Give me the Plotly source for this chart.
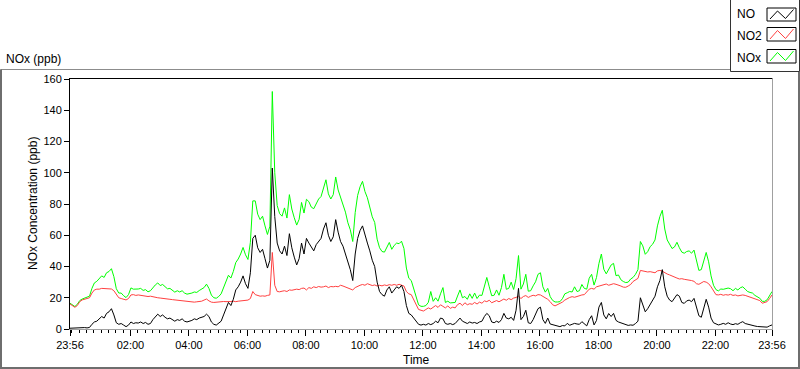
import pandas as pd
import plotly.graph_objects as go

# 5-minute readings from 23:56 to 23:56 next day (289 samples)
START = "2020-01-01 23:56"
STEP = "5min"

NO = [0.5,
      0.6, 0.5, 0.8, 0.7, 0.6, 0.9, 0.7, 1.0, 3.0, 4.5, 5.0, 6.5,
      8, 7, 10, 11, 13, 9, 4, 3, 3.5, 2.5, 1.5, 2.5,
      4.5, 3.5, 4, 3.8, 4.5, 3.5, 4.2, 3.0, 3.5, 6, 8, 9.5,
      8, 9, 7.5, 6.5, 7, 6, 5, 6, 5.5, 6.5, 5, 4.5,
      5, 5.5, 6.5, 6, 7, 7.5, 8, 9.5, 8, 4.5, 3, 2.5,
      3.5, 5, 9, 13, 17, 15, 19, 25, 27, 30, 34, 29,
      26, 36, 58, 60, 52, 49, 51, 45, 39, 44, 103, 72,
      55, 50, 48, 53, 47, 61, 52, 46, 41, 45, 55, 48,
      58, 55, 52, 50, 54, 56, 58, 64, 68, 60, 56, 59,
      70, 62, 56, 53, 48, 42, 38, 31, 48, 58, 63, 66,
      60, 55, 50, 44, 40, 30, 24, 22, 21, 25, 27, 23,
      25, 27, 26, 28, 24, 15, 10, 9, 7, 5, 3, 2.5,
      3, 2.5, 3.5, 2.8, 3.5, 5, 4, 7, 6.5, 3.5, 3, 3.5,
      2.8, 3.5, 5.5, 7, 5, 4, 3.5, 4.5, 3.8, 4.2, 3.5, 4.5,
      5, 8, 10, 8.5, 4.5, 4, 5, 4.2, 6, 10, 7, 6.5,
      7.5, 5.5, 12, 26, 6, 8, 12, 4, 3.5, 6, 9, 13,
      14, 6, 3.6, 7, 3.2, 2.8, 2.5, 1.8, 1.5, 2.2, 2.0, 3.6,
      2.4, 3.0, 3.6, 3.2, 3.0, 4.7, 3.5, 2.0, 6, 8.5, 2.6, 5.5,
      14, 17, 9, 6.5, 9.9, 8, 10, 5.5, 4.5, 4, 3.6, 3,
      2.3, 2.6, 2.4, 3.5, 5, 20, 16, 11, 13, 16, 18, 21,
      27, 31, 38, 27, 21, 18.5, 17.5, 19.6, 22, 21, 17, 16.4,
      18, 18.5, 17.5, 19.6, 14, 8.5, 7.5, 13, 19, 14, 7, 4,
      3.2, 2.6, 3.0, 3.6, 3.0, 4.0, 3.2, 2.8, 3.4, 3.0, 4.0, 4.7,
      3.5, 3.0, 2.8, 2.2, 1.9, 1.6, 1.5, 1.2, 0.9, 1.2, 2.0, 2.6]

NO2 = [16,
       15, 13.9, 15, 17.5, 18.6, 19, 19.6, 20, 23, 25, 25.5, 25.5,
       26, 26, 26, 25.8, 25.6, 24.5, 21.8, 20, 19.5, 18.8, 18.6, 19.5,
       21.8, 22, 21.5, 21.8, 21.5, 21.2, 21, 20.8, 21, 20.5, 20.2, 20,
       19.8, 19.5, 19.5, 19.2, 19, 18.8, 18.6, 18.5, 18.2, 18, 18, 17.8,
       17.5, 17.5, 17.2, 17.4, 17.6, 17.8, 18.5, 19.2, 18, 17.2, 17, 17.2,
       17.3, 17.5, 17.6, 17.5, 17.4, 17.6, 17.8, 17.5, 17.8, 18, 18.2, 18.5,
       18.5, 19.5, 24, 22, 21.5, 21, 21.2, 21, 21.5, 21.8, 49, 28,
       24, 23.8, 24.2, 24.5, 24, 25, 24.8, 25.2, 25.5, 25.2, 26, 26.2,
       25, 26.5, 26, 27, 26.5, 27.2, 26.8, 27, 27.5, 26.5, 27.2, 27,
       27.3, 27, 28, 27.5, 26.8, 26, 25.5, 25, 26.5, 27.5, 28, 28.5,
       28, 29, 28.5, 27.8, 28.2, 27.5, 28, 27.6, 28.2, 27.8, 28.4, 28,
       28.5, 28, 28.6, 28.2, 27.5, 24, 22.5, 22, 19, 15, 12.5, 12,
       11.5, 12.5, 13.5, 12.8, 14.2, 15, 13.8, 15.5, 14.5, 13.5, 14.8, 13.2,
       14, 13.5, 15.6, 16.5, 15, 16.8, 15.5, 16.2, 15.8, 17, 16, 17.2,
       16.5, 18, 17.5, 18.4, 16.8, 17.6, 18.2, 17.4, 18.5, 19.2, 18.4, 19.5,
       18.8, 19.8, 20.2, 21, 19.5, 20.8, 21.4, 20.2, 21, 21.6, 21.2, 22,
       21.8, 21, 20, 19, 17.5, 15.5, 14.8, 15.5, 16, 17.2, 18.5, 19.6,
       20.2, 20.7, 20.3, 20.8, 21.5, 21.8, 22, 23.5, 25.5, 26, 25.5, 27,
       27.5, 27.8, 28.2, 28.8, 28, 28.4, 29, 28.6, 28.2, 27.5, 26.8, 26.7,
       27.5, 28.5, 30.4, 31.5, 32.4, 37.5, 37.2, 36.8, 36.5, 36.7, 36.2, 36,
       37.2, 37.5, 37, 36, 35.2, 34.6, 33.8, 33.4, 32.6, 32, 32.2, 31.8,
       31.6, 31.4, 31, 30.5, 29, 28.6, 29.5, 30.4, 30, 29, 27, 24,
       22, 21.8, 22.2, 21.6, 22, 21.7, 22.2, 21.5, 21.8, 21.2, 21.6, 21.8,
       21.5, 21, 20.6, 20.2, 19.6, 19, 18.2, 16.5, 16.8, 17.5, 19.5, 21.8]

NOX = [16.5,
       15.6, 14.4, 15.8, 18.2, 19.2, 19.9, 20.3, 21.0, 26.0, 29.5, 30.5, 32.0,
       34.0, 33.0, 36.0, 36.8, 38.6, 33.5, 25.8, 23.0, 23.0, 21.3, 20.1, 22.0,
       26.3, 25.5, 25.5, 25.6, 26.0, 24.7, 25.2, 23.8, 24.5, 26.5, 28.2, 29.5,
       27.8, 28.5, 27.0, 25.7, 26.0, 24.8, 23.6, 24.5, 23.7, 24.5, 23.0, 22.3,
       22.5, 23.0, 23.7, 23.4, 24.6, 25.3, 26.5, 28.7, 26.0, 21.7, 20.0, 19.7,
       20.8, 22.5, 26.6, 30.5, 34.4, 32.6, 36.8, 42.5, 44.8, 48.0, 52.2, 47.5,
       44.5, 55.5, 82.0, 82.0, 73.5, 70.0, 72.2, 66.0, 60.5, 65.8, 152.0, 100.0,
       79.0, 73.8, 72.2, 77.5, 71.0, 86.0, 76.8, 71.2, 66.5, 70.2, 81.0, 74.2,
       83.0, 81.5, 78.0, 77.0, 80.5, 83.2, 84.8, 91.0, 95.5, 86.5, 83.2, 86.0,
       97.3, 89.0, 84.0, 80.5, 74.8, 68.0, 63.5, 56.0, 74.5, 85.5, 91.0, 94.5,
       88.0, 84.0, 78.5, 71.8, 68.2, 57.5, 52.0, 49.6, 49.2, 52.8, 55.4, 51.0,
       53.5, 55.0, 54.6, 56.2, 51.5, 39.0, 32.5, 31.0, 26.0, 20.0, 15.5, 14.5,
       14.5, 15.0, 17.0, 24.0, 17.7, 20.0, 17.8, 22.5, 26.5, 17.0, 17.8, 16.7,
       16.8, 17.0, 21.1, 25.0, 20.0, 20.8, 19.0, 22.5, 19.6, 23.0, 19.5, 21.7,
       21.5, 28.0, 33.0, 27.0, 21.3, 21.6, 25.0, 21.6, 26.5, 35.0, 25.4, 26.0,
       30.0, 25.3, 32.2, 47.0, 25.5, 28.8, 35.0, 24.2, 24.5, 27.6, 30.2, 35.0,
       36.0, 27.0, 23.6, 26.0, 20.7, 18.3, 17.3, 17.3, 17.5, 19.4, 22.5, 23.2,
       24.0, 23.7, 27.0, 24.0, 24.5, 28.5, 26.0, 25.5, 32.5, 35.0, 28.1, 33.0,
       42.0, 48.0, 38.2, 35.3, 38.0, 41.0, 42.0, 34.1, 34.6, 31.5, 30.4, 29.7,
       30.0, 32.0, 33.0, 35.0, 38.0, 56.0, 53.2, 47.8, 49.5, 52.7, 54.2, 57.0,
       66.0, 72.0, 76.0, 64.0, 57.0, 54.0, 51.5, 52.5, 55.5, 52.0, 49.2, 48.5,
       49.6, 50.0, 48.5, 50.5, 43.0, 37.5, 38.0, 44.0, 49.0, 43.0, 34.0, 28.0,
       25.2, 24.4, 25.6, 25.4, 26.0, 26.2, 25.8, 24.5, 26.0, 25.0, 26.4, 27.0,
       25.5, 24.0, 23.4, 23.0, 21.5, 20.6, 19.7, 17.7, 17.7, 18.7, 21.5, 24.0]

TICK_VALS = ["2020-01-01 23:56", "2020-01-02 02:00", "2020-01-02 04:00",
             "2020-01-02 06:00", "2020-01-02 08:00", "2020-01-02 10:00",
             "2020-01-02 12:00", "2020-01-02 14:00", "2020-01-02 16:00",
             "2020-01-02 18:00", "2020-01-02 20:00", "2020-01-02 22:00",
             "2020-01-02 23:56"]
TICK_TEXT = ["23:56", "02:00", "04:00", "06:00", "08:00", "10:00", "12:00",
             "14:00", "16:00", "18:00", "20:00", "22:00", "23:56"]

SERIES = ["NO", "NO2", "NOx"]
COLORS = {"NO": "#000000", "NO2": "#ff4040", "NOx": "#00ff00"}

assert len(NO) == len(NO2) == len(NOX) == 289
times = pd.date_range(START, periods=len(NO), freq=STEP)

FONT = "Liberation Sans, Arial, sans-serif"

# plot area in pixels
L, R, T, B = 70, 772, 79, 329
W, H = 800, 369


def px(x):
    return (x - L) / (R - L)


def py(y):
    return (B - y) / (B - T)


fig = go.Figure()
for name, vals in (("NOx", NOX), ("NO2", NO2), ("NO", NO)):
    fig.add_trace(go.Scatter(x=times, y=vals, mode="lines", name=name,
                             line=dict(color=COLORS[name], width=1),
                             showlegend=False, hoverinfo="skip"))

fig.update_layout(
    width=W, height=H,
    margin=dict(l=L, r=W - R, t=T, b=H - B),
    paper_bgcolor="white", plot_bgcolor="white",
    font=dict(family=FONT, size=11, color="#000"),
    xaxis=dict(range=[TICK_VALS[0], TICK_VALS[-1]], tickmode="array",
               tickvals=TICK_VALS, ticktext=TICK_TEXT, ticks="outside",
               ticklen=6, tickcolor="#000", showgrid=False, zeroline=False,
               showline=True, linecolor="#a0a0a0", linewidth=1,
               tickfont=dict(size=11, color="#000"),
               minor=dict(ticks="outside", ticklen=3, tickcolor="#000",
                          dtick=15 * 60 * 1000, tick0="2020-01-02 00:00")),
    yaxis=dict(range=[0, 160], dtick=20, ticks="outside", ticklen=5,
               tickcolor="#000", showgrid=False, zeroline=False,
               showline=True, linecolor="#000", linewidth=1,
               tickfont=dict(size=11, color="#000")),
)

shapes = []
# plot area top and right borders
shapes.append(dict(type="line", xref="paper", yref="paper", x0=px(69), x1=px(772.5),
                   y0=py(78.5), y1=py(78.5), line=dict(color="#000", width=1)))
shapes.append(dict(type="line", xref="paper", yref="paper", x0=px(772.5), x1=px(772.5),
                   y0=py(78.5), y1=py(330), line=dict(color="#a0a0a0", width=1)))
# outer frame
shapes.append(dict(type="line", xref="paper", yref="paper", x0=px(0.5), x1=px(730),
                   y0=py(69.5), y1=py(69.5), line=dict(color="#8c8c8c", width=1)))
shapes.append(dict(type="line", xref="paper", yref="paper", x0=px(1), x1=px(1),
                   y0=py(69.5), y1=py(368), line=dict(color="#6e6e6e", width=2)))
shapes.append(dict(type="line", xref="paper", yref="paper", x0=px(0), x1=px(800),
                   y0=py(368), y1=py(368), line=dict(color="#6e6e6e", width=2)))
shapes.append(dict(type="line", xref="paper", yref="paper", x0=px(799), x1=px(799),
                   y0=py(71.5), y1=py(368), line=dict(color="#6e6e6e", width=2)))
# legend box
shapes.append(dict(type="rect", xref="paper", yref="paper", x0=px(730.5), x1=px(799.5),
                   y0=py(-1), y1=py(71.5), line=dict(color="#333", width=1),
                   fillcolor="white"))

annotations = []
rows = [(14, 8, 21), (36, 27.5, 41), (58, 49.5, 63)]
for name, (ty, y0, y1) in zip(SERIES, rows):
    annotations.append(dict(text=name, xref="paper", yref="paper", x=px(735),
                            y=py(ty), xanchor="left", yanchor="middle",
                            showarrow=False, font=dict(size=12, color="#000")))
    shapes.append(dict(type="rect", xref="paper", yref="paper", x0=px(767), x1=px(796),
                       y0=py(y0), y1=py(y1), line=dict(color="#000", width=1),
                       fillcolor="white"))
    pts = [(770, y1 - 2), (777.5, y0 + 3), (785.5, y1 - 2.5), (793.5, y0 + 1.5)]
    path = "M " + " L ".join(f"{px(a):.5f},{py(b):.5f}" for a, b in pts)
    shapes.append(dict(type="path", xref="paper", yref="paper", path=path,
                       line=dict(color=COLORS[name], width=1)))

annotations.append(dict(text="NOx (ppb)", xref="paper", yref="paper", x=px(4),
                        y=py(59), xanchor="left", yanchor="middle", showarrow=False,
                        font=dict(size=12, color="#000")))
annotations.append(dict(text="NOx Concentration (ppb)", xref="paper", yref="paper",
                        x=px(33), y=0.5, textangle=-90, xanchor="center",
                        yanchor="middle", showarrow=False,
                        font=dict(size=12, color="#000")))
annotations.append(dict(text="Time", xref="paper", yref="paper", x=px(416),
                        y=py(360), xanchor="center", yanchor="middle",
                        showarrow=False, font=dict(size=12, color="#000")))

fig.update_layout(shapes=shapes, annotations=annotations)
fig.write_html("out.html", config={"displayModeBar": False},
               post_script="document.body.style.margin='0';"
                           "document.body.style.overflow='hidden';")
